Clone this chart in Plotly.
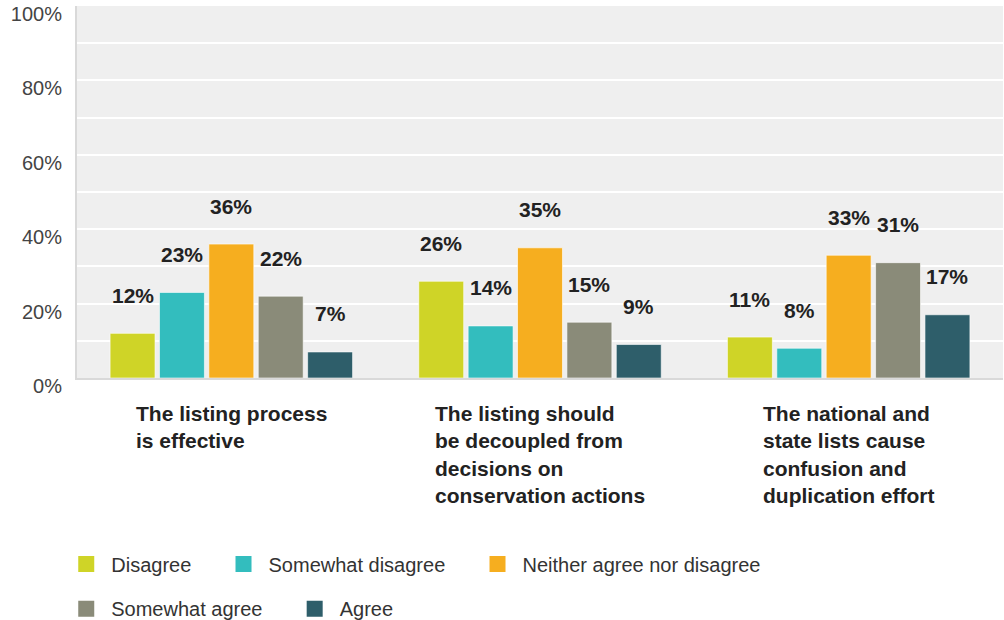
import plotly.graph_objects as go

statements = [
    "The listing process<br>is effective",
    "The listing should<br>be decoupled from<br>decisions on<br>conservation actions",
    "The national and<br>state lists cause<br>confusion and<br>duplication effort",
]
responses = ["Disagree", "Somewhat disagree", "Neither agree nor disagree",
             "Somewhat agree", "Agree"]
disagree = [12, 26, 11]
somewhat_disagree = [23, 14, 8]
neither = [36, 35, 33]
somewhat_agree = [22, 15, 31]
agree = [7, 9, 17]
values = [disagree, somewhat_disagree, neither, somewhat_agree, agree]
colors = ["#cfd427", "#33bdbe", "#f6ae1f", "#8a8b79", "#2e5e6a"]

FONT = "Liberation Sans, Arial, sans-serif"
bargap = 0.2
n = len(responses)
slot = (1 - bargap) / n
xs = list(range(len(statements)))
pad = "\u00a0" * 4  # extra room between legend entries

fig = go.Figure()
for j, (name, vals, col) in enumerate(zip(responses, values, colors)):
    fig.add_trace(go.Bar(
        x=xs, y=[v / 100 for v in vals], name=name, showlegend=False,
        marker=dict(color=col, line=dict(color="rgba(255,255,255,0.6)", width=1)),
        hoverinfo="skip",
    ))
    # legend swatch (bigger square than the default bar swatch)
    fig.add_trace(go.Scatter(
        x=[None], y=[None], mode="markers", name=name + pad,
        marker=dict(symbol="square", size=22, color=col),
        legend="legend" if j < 3 else "legend2",
    ))
    for i, v in enumerate(vals):
        fig.add_annotation(
            x=i - (1 - bargap) / 2 + slot * (j + 0.5), y=v / 100,
            text=f"<b>{v}%</b>", showarrow=False, yanchor="middle", yshift=38,
            font=dict(family=FONT, size=21, color="#222"),
        )

for i, s in enumerate(statements):
    fig.add_annotation(
        x=i, xref="x", y=0, yref="paper", yanchor="top", yshift=-22,
        text=f"<b>{s}</b>", showarrow=False, align="left", xanchor="center",
        font=dict(family=FONT, size=21, color="#222"),
    )

legend_style = dict(orientation="h", xref="container", x=0.061, xanchor="left",
                    yanchor="middle", itemsizing="trace", itemwidth=40,
                    font=dict(family=FONT, size=20, color="#333"),
                    bgcolor="rgba(0,0,0,0)", itemclick=False)

fig.update_layout(
    width=1004, height=620,
    margin=dict(l=77, r=1, t=6, b=242, autoexpand=False),
    paper_bgcolor="white", plot_bgcolor="#efefef",
    barmode="group", bargap=bargap, bargroupgap=0.09,
    font=dict(family=FONT),
    legend=dict(y=-0.5, **legend_style),
    legend2=dict(y=-0.62, **legend_style),
    xaxis=dict(range=[-0.5, 2.5], showticklabels=False, showgrid=False,
               zeroline=False, showline=True, linecolor="#d9d9d9", linewidth=2,
               fixedrange=True),
    yaxis=dict(range=[0, 1], dtick=0.2, tickformat=".0%", showgrid=True,
               gridcolor="white", gridwidth=2, zeroline=False, showline=True,
               linecolor="#d9d9d9", linewidth=2, ticks="", ticklabelstandoff=9,
               ticklabelshift=8,
               tickfont=dict(family=FONT, size=20, color="#444"),
               minor=dict(dtick=0.1, showgrid=True, gridcolor="white", gridwidth=2),
               fixedrange=True),
)

fig.write_html("out.html", config={"displayModeBar": False},
               post_script="document.body.style.margin = '0';")
